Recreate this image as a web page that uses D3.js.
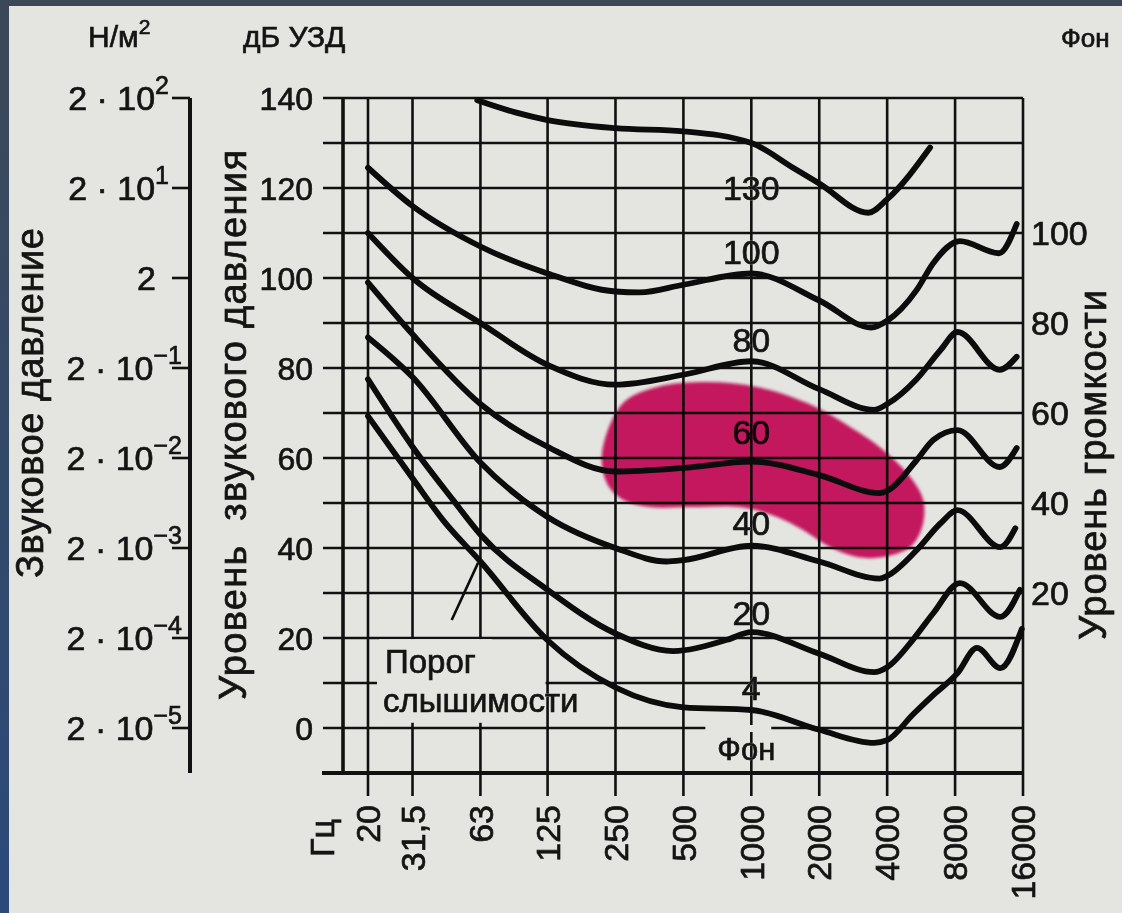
<!DOCTYPE html>
<html lang="ru">
<head>
<meta charset="UTF-8">
<title>Кривые равной громкости</title>
<script src="https://d3js.org/d3.v7.min.js"></script>
<style>
  html, body { margin: 0; padding: 0; background: #36475b; }
  svg { display: block; }
  text { font-family: "Liberation Sans", Arial, sans-serif; fill: #141414; stroke: #141414; stroke-width: 0.7px; }
  text.halo { fill: #e4e4e0; stroke: #e4e4e0; }
</style>
</head>
<body>
<svg id="chart" width="1122" height="913"></svg>
<script>
// оси
const freqTicks = [20, 31.5, 63, 125, 250, 500, 1000, 2000, 4000, 8000, 16000];
const freqLabels = ['20', '31,5', '63', '125', '250', '500', '1000', '2000', '4000', '8000', '16000'];
const dbGrid = d3.range(0, 141, 10);
const dbTicks = [0, 20, 40, 60, 80, 100, 120, 140];
const pressureExp = [2, 1, 0, -1, -2, -3, -4, -5];   // 2·10^k Н/м²
const loudnessTicks = [100, 80, 60, 40, 20];
const loudnessTickDb = [110, 90, 70, 50, 30];

// изофоны: [частота Гц, дБ]
const phon130 = [[61, 139.5], [90, 136.8], [125, 135.1], [250, 133.3], [500, 132.6], [1000, 130],
  [1530, 124.5], [2000, 121], [3300, 114.5], [4000, 117.5], [6200, 129]];
const phon100 = [[20, 124.5], [31.5, 116], [63, 107], [125, 101], [250, 97], [320, 96.8], [500, 98.5],
  [1000, 101], [2000, 95], [3400, 89], [4000, 90.5], [5400, 97.3], [6400, 103.3], [8400, 108.2],
  [12500, 105.5], [15000, 112]];
const phon80 = [[20, 110], [31.5, 100], [63, 90], [125, 80.7], [250, 76.3], [500, 78.5], [1000, 81.5],
  [2000, 75.3], [3500, 70.7], [4000, 72], [5400, 77.5], [6900, 84], [8200, 88], [12600, 79.6], [15000, 82.5]];
const phon60 = [[20, 99], [31.5, 87.5], [63, 72], [125, 62.5], [250, 57], [500, 57.8], [1000, 59.2],
  [2000, 56.2], [3700, 52.2], [4000, 52.7], [5400, 59.5], [6400, 64], [8200, 66.2], [12600, 58], [15000, 62.2]];
const phon40 = [[20, 86.8], [31.5, 78], [63, 59], [125, 46.9], [250, 40], [420, 37], [500, 37.3],
  [1000, 40.5], [2000, 37], [3700, 33.2], [4000, 33.8], [5400, 39.5], [6900, 45.5], [8200, 48.4],
  [12700, 40.2], [14800, 44.4]];
const phon20 = [[20, 77.5], [31.5, 62.5], [47.6, 50.7], [63, 43], [125, 30.7], [250, 21], [450, 17.1],
  [780, 19.6], [1000, 21.3], [2000, 16.5], [3500, 12.4], [4000, 13.5], [5200, 19.6], [6400, 25.5],
  [8400, 32.2], [12700, 24.7], [15500, 30.7]];
const threshold = [[20, 69.3], [31.5, 55.5], [43, 46.2], [63, 37], [125, 19.5], [250, 9], [500, 4.6],
  [1000, 4], [2000, -0.4], [3500, -3.3], [4000, -2.7], [5200, 3], [6400, 7.3], [8200, 12.2],
  [10000, 17.8], [12700, 13.3], [15800, 22]];
const curves = [phon130, phon100, phon80, phon60, phon40, phon20, threshold];

// подписи кривых у 1000 Гц
const curveLabels = ['130', '100', '80', '60', '40', '20', '4'];
const curveLabelDb = [120, 105.8, 86.2, 65.8, 45.6, 25.6, 8.9];

// пятно (контур)
const blob = [[218, 61.1], [270, 72.2], [382, 75.8], [637, 76.9], [1061, 75.8], [1767, 72.2],
  [2742, 66.9], [3840, 61.8], [5058, 55.8], [5776, 50.7], [5718, 44.7], [5058, 40.2], [3840, 38],
  [2944, 38], [2235, 40.2], [1696, 44], [1301, 46.9], [892, 49.1], [535, 49.1], [356, 49.1],
  [270, 50.7], [229, 54.4]];

const pointer = [[47, 24], [61.5, 36.7]];

const W = 1122, H = 913;
const paper = '#e4e4e0';
const ink = '#111';
const svg = d3.select('#chart');

const x = d3.scaleLog().domain([20, 16000]).range([368, 1023]);
const y = d3.scaleLinear().domain([0, 140]).range([728, 98]);
const pScale = d3.scaleLog().domain([2e-5, 2e2]).range([y(0), y(140)]);

const xL = x(20) - 25;
const xR = x(16000);
const yBottom = y(-10);

const defs = svg.append('defs');
const bg = defs.append('linearGradient').attr('id', 'bg')
  .attr('x1', 0).attr('y1', 0).attr('x2', 0).attr('y2', 1);
bg.append('stop').attr('offset', '0%').attr('stop-color', '#3c4857');
bg.append('stop').attr('offset', '100%').attr('stop-color', '#2b4a7a');
defs.append('filter').attr('id', 'soft')
  .append('feGaussianBlur').attr('stdDeviation', 1.6);

svg.append('rect').attr('width', W).attr('height', H).attr('fill', 'url(#bg)');
svg.append('rect').attr('x', 9).attr('y', 6).attr('width', W - 9).attr('height', H - 6).attr('fill', paper);

const gGrid = svg.append('g');
const gMask = svg.append('g');
const gLab = svg.append('g');
const gBlob = svg.append('g');
const gCurves = svg.append('g');
const gText = svg.append('g');

// сетка
gGrid.selectAll('line.h').data(dbGrid).join('line').attr('class', 'h')
  .attr('x1', xL - 20).attr('x2', xR)
  .attr('y1', d => y(d)).attr('y2', d => y(d))
  .attr('stroke', ink).attr('stroke-width', 2.6);
gGrid.selectAll('line.v').data(freqTicks).join('line').attr('class', 'v')
  .attr('x1', d => x(d)).attr('x2', d => x(d))
  .attr('y1', y(140)).attr('y2', yBottom + 23)
  .attr('stroke', ink).attr('stroke-width', 2.6);
gGrid.append('line').attr('x1', xL).attr('x2', xL).attr('y1', y(140)).attr('y2', yBottom)
  .attr('stroke', ink).attr('stroke-width', 3.6);
gGrid.append('line').attr('x1', xL - 21).attr('x2', xR).attr('y1', yBottom).attr('y2', yBottom)
  .attr('stroke', ink).attr('stroke-width', 4);

// шкала давления
const px = 190;
gGrid.append('line').attr('x1', px).attr('x2', px).attr('y1', pScale(2e2)).attr('y2', yBottom)
  .attr('stroke', ink).attr('stroke-width', 4);
gGrid.selectAll('line.p').data(pressureExp).join('line').attr('class', 'p')
  .attr('x1', px - 18).attr('x2', px)
  .attr('y1', k => pScale(2 * Math.pow(10, k))).attr('y2', k => pScale(2 * Math.pow(10, k)))
  .attr('stroke', ink).attr('stroke-width', 2.6);

const pl = gText.selectAll('text.p').data(pressureExp).join('text').attr('class', 'p')
  .attr('x', k => k > 0 ? 169 : (k === 0 ? 156 : 182))
  .attr('y', k => pScale(2 * Math.pow(10, k)) + 12)
  .attr('text-anchor', 'end')
  .attr('font-size', 34);
pl.append('tspan').text(k => k === 0 ? '2' : '2 · 10');
pl.filter(k => k !== 0).append('tspan')
  .attr('font-size', 25).attr('dy', -16)
  .text(k => k < 0 ? '\u2212' + (-k) : String(k));

// метки дБ слева
gText.selectAll('text.db').data(dbTicks).join('text').attr('class', 'db')
  .attr('x', xL - 30).attr('y', d => y(d) + 12)
  .attr('text-anchor', 'end').attr('font-size', 32)
  .text(d => d);

// метки частоты
gText.selectAll('text.f').data(freqTicks).join('text').attr('class', 'f')
  .attr('transform', d => `translate(${x(d)},${yBottom + 32}) rotate(-90)`)
  .attr('text-anchor', 'end').attr('dy', '0.36em').attr('font-size', 34)
  .text((d, i) => freqLabels[i]);
gText.append('text')
  .attr('transform', `translate(${x(20) - 46},${yBottom + 46}) rotate(-90)`)
  .attr('text-anchor', 'end').attr('dy', '0.36em').attr('font-size', 34)
  .text('Гц');

// уровень громкости справа
gText.selectAll('text.l').data(loudnessTicks).join('text').attr('class', 'l')
  .attr('x', xR + 8).attr('y', (d, i) => y(loudnessTickDb[i]) + 12)
  .attr('font-size', 34)
  .text(d => d);

// заголовки
const hdr = gText.append('text').attr('x', 88).attr('y', 47).attr('font-size', 30);
hdr.append('tspan').text('Н/м');
hdr.append('tspan').attr('font-size', 21).attr('dy', -13).text('2');
gText.append('text').attr('x', 243).attr('y', 47).attr('font-size', 30).text('дБ УЗД');
gText.append('text').attr('x', 1061).attr('y', 47).attr('font-size', 26).text('Фон');

gText.append('text').attr('transform', 'translate(43,403) rotate(-90)')
  .attr('text-anchor', 'middle').attr('font-size', 38)
  .attr('textLength', 350).attr('lengthAdjust', 'spacing')
  .text('Звуковое давление');
gText.append('text').attr('transform', 'translate(246,425) rotate(-90)')
  .attr('text-anchor', 'middle').attr('font-size', 38).attr('xml:space', 'preserve')
  .attr('textLength', 550).attr('lengthAdjust', 'spacing')
  .text('Уровень  звукового давления');
gText.append('text').attr('transform', 'translate(1106,465) rotate(-90)')
  .attr('text-anchor', 'middle').attr('font-size', 38)
  .attr('textLength', 350).attr('lengthAdjust', 'spacing')
  .text('Уровень громкости');

// подписи кривых с "окном" в сетке: сначала подложка цвета бумаги, потом текст
function haloLabel(g, px, py, txt, size, w) {
  g.append('text').attr('class', 'halo').attr('x', px).attr('y', py)
    .attr('text-anchor', 'middle').attr('font-size', size).attr('stroke-width', w).text(txt);
  return g.append('text').attr('x', px).attr('y', py)
    .attr('text-anchor', 'middle').attr('font-size', size).text(txt);
}
curveLabels.forEach((t, i) => haloLabel(gLab, x(1000), y(curveLabelDb[i]) + 12, t, 34, 10));
const fon = haloLabel(gLab, x(950), y(-4.7) + 11, 'Фон', 31, 8);
const bf = fon.node().getBBox();
gMask.append('rect').attr('x', bf.x - 12).attr('y', y(0) - 3)
  .attr('width', bf.width + 8).attr('height', 7).attr('fill', paper);

// порог слышимости
const t1 = gLab.append('text').attr('x', x(23.8)).attr('y', y(12.2)).attr('font-size', 33).text('Порог');
gLab.append('text').attr('class', 'halo').attr('x', x(23.3)).attr('y', y(3.6)).attr('font-size', 33)
  .attr('stroke-width', 8).text('слышимости');
const t2 = gLab.append('text').attr('x', x(23.3)).attr('y', y(3.6)).attr('font-size', 33).text('слышимости');
const b1 = t1.node().getBBox(), b2 = t2.node().getBBox();
gMask.append('rect').attr('x', b1.x - 6).attr('y', b1.y - 4)
  .attr('width', b1.width + 22).attr('height', b2.y + b2.height - b1.y + 6).attr('fill', paper);
gMask.append('rect').attr('x', b2.x - 6).attr('y', b2.y - 10)
  .attr('width', x(125) - b2.x + 4).attr('height', b2.height + 14).attr('fill', paper);

// пятно
gBlob.append('path')
  .attr('d', d3.line().x(d => x(d[0])).y(d => y(d[1])).curve(d3.curveCatmullRomClosed.alpha(0.5))(blob))
  .attr('fill', '#d80f62').attr('opacity', 0.95)
  .style('mix-blend-mode', 'multiply').attr('filter', 'url(#soft)');

// кривые
const line = d3.line().x(d => x(d[0])).y(d => y(d[1])).curve(d3.curveMonotoneX);
gCurves.selectAll('path.k').data(curves).join('path').attr('class', 'k')
  .attr('d', line).attr('fill', 'none').attr('stroke', '#0c0c0c')
  .attr('stroke-width', 5.8).attr('stroke-linecap', 'round').attr('stroke-linejoin', 'round');
gCurves.append('path').attr('d', d3.line().x(d => x(d[0])).y(d => y(d[1]))(pointer))
  .attr('fill', 'none').attr('stroke', '#0c0c0c').attr('stroke-width', 2.6);
</script>
</body>
</html>
